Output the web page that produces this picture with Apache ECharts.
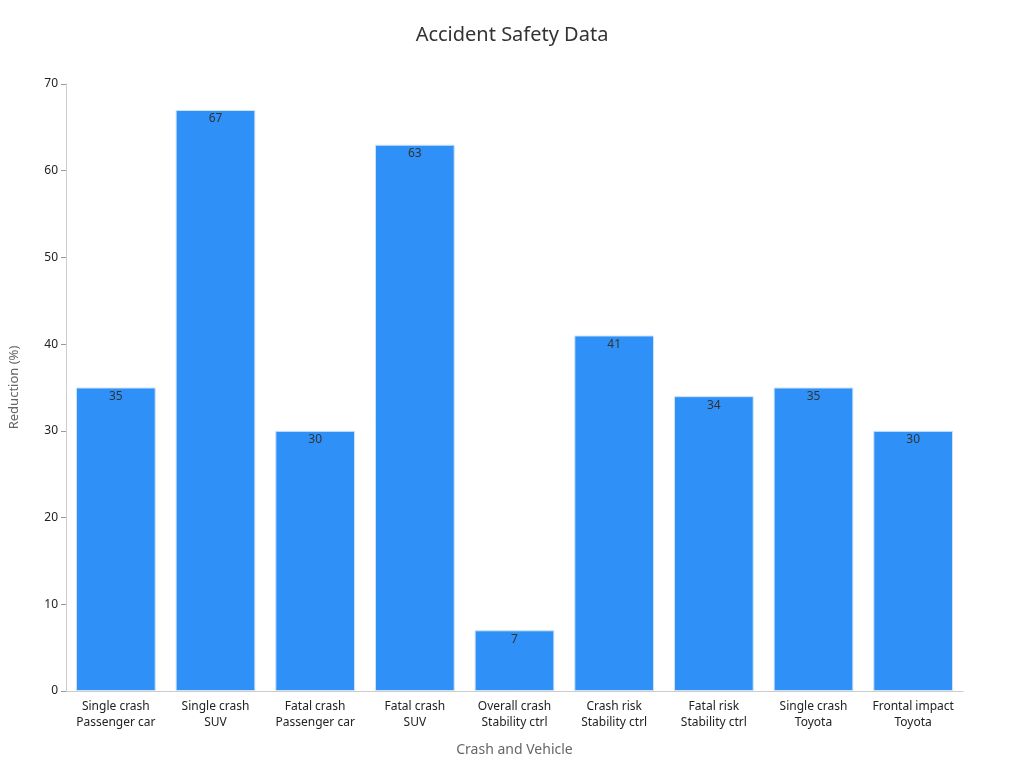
<!DOCTYPE html>
<html><head><meta charset="utf-8">
<script src="https://cdn.jsdelivr.net/npm/echarts@6/dist/echarts.min.js"></script>
<style>html,body{margin:0;padding:0;background:#fff}#c{width:1024px;height:768px}</style>
</head><body><div id="c"></div>
<script>
const categories = ["Single crash\nPassenger car","Single crash\nSUV","Fatal crash\nPassenger car","Fatal crash\nSUV","Overall crash\nStability ctrl","Crash risk\nStability ctrl","Fatal risk\nStability ctrl","Single crash\nToyota","Frontal impact\nToyota"];
const values = [35,67,30,63,7,41,34,35,30];
const chart = echarts.init(document.getElementById('c'));
chart.setOption({
  animation:false,
  textStyle:{fontFamily:'Noto Sans'},
  title:{text:'Accident Safety Data',left:'center',top:20,textStyle:{fontSize:20,fontWeight:'normal',color:'#333'}},
  grid:{left:60,right:61,top:84,bottom:77},
  xAxis:{type:'category',data:categories,name:'Crash and Vehicle',nameLocation:'middle',nameGap:52,
    nameTextStyle:{fontSize:14,color:'#666'},
    axisLine:{lineStyle:{color:'#ccc'}},axisTick:{show:false},
    axisLabel:{color:'#222',fontSize:12,lineHeight:16,interval:0}},
  yAxis:{type:'value',min:0,max:70,interval:10,name:'Reduction (%)',nameLocation:'middle',nameGap:45,
    nameTextStyle:{fontSize:13,color:'#666'},
    axisLine:{show:true,lineStyle:{color:'#ccc'}},axisTick:{show:true,lineStyle:{color:'#999'}},
    axisLabel:{color:'#222',fontSize:12},splitLine:{show:false}},
  series:[{type:'bar',data:values,barCategoryGap:'20%',
    itemStyle:{color:'#2f91f7',borderColor:'#cfe3f7',borderWidth:1},
    label:{show:true,position:'insideTop',color:'#333',fontSize:12,offset:[0,-2]}}]
});
</script></body></html>
